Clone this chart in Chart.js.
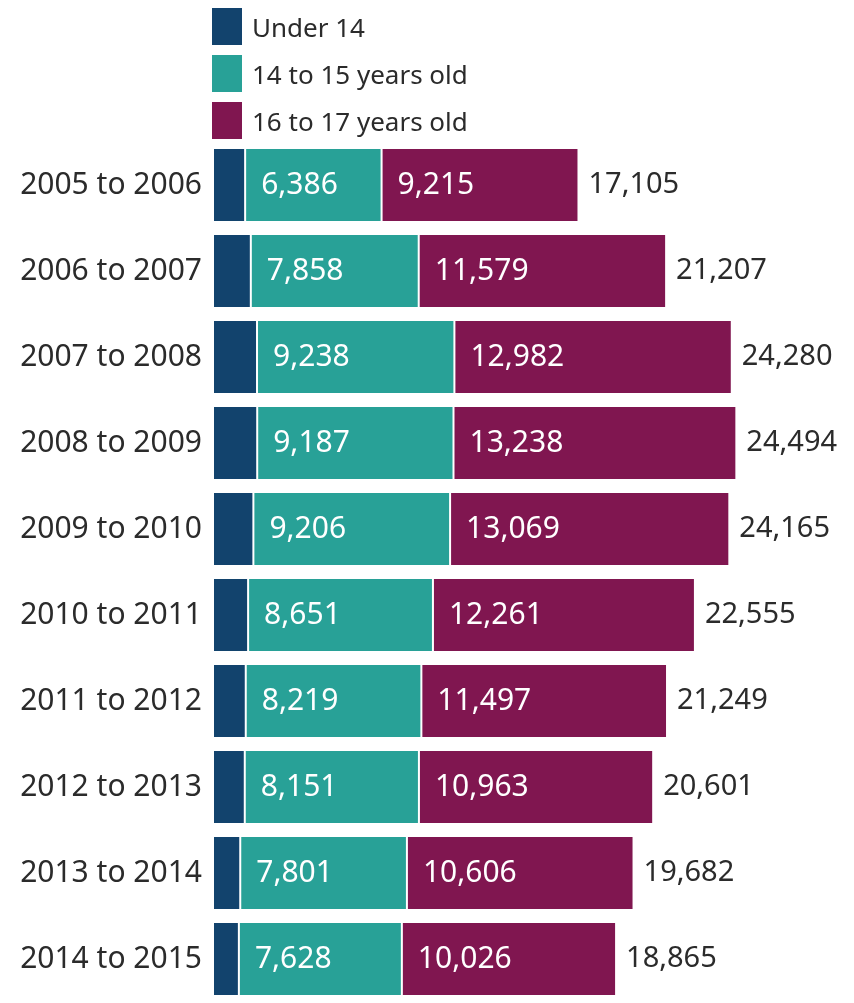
<!DOCTYPE html>
<html>
<head>
<meta charset="utf-8">
<script src="https://cdn.jsdelivr.net/npm/chart.js@4"></script>
<style>
  body { margin: 0; background: #fff; overflow: hidden; }
  #wrap { position: relative; width: 854px; height: 1003px; }
  #myChart { position: absolute; left: 0; top: 0; }
  #legend { position: absolute; left: 212px; top: 8px; font-family: 'Noto Sans', sans-serif; font-size: 26px; color: #2b2b2b; }
  #legend div { display: flex; align-items: center; height: 37px; margin-bottom: 10px; }
  #legend span.box { display: inline-block; width: 30px; height: 37px; margin-right: 10px; }
</style>
</head>
<body>
<div id="wrap">
  <canvas id="myChart" width="854" height="1003"></canvas>
  <div id="legend"></div>
</div>
<script>
const years = [
  '2005 to 2006',
  '2006 to 2007',
  '2007 to 2008',
  '2008 to 2009',
  '2009 to 2010',
  '2010 to 2011',
  '2011 to 2012',
  '2012 to 2013',
  '2013 to 2014',
  '2014 to 2015',
];
const under14 = [1504, 1770, 2060, 2069, 1890, 1643, 1533, 1487, 1275, 1211];
const age14to15 = [6386, 7858, 9238, 9187, 9206, 8651, 8219, 8151, 7801, 7628];
const age16to17 = [9215, 11579, 12982, 13238, 13069, 12261, 11497, 10963, 10606, 10026];
const totals = [17105, 21207, 24280, 24494, 24165, 22555, 21249, 20601, 19682, 18865];

const seriesNames = ['Under 14', '14 to 15 years old', '16 to 17 years old'];
const colours = ['#12436d', '#28a197', '#801650'];

const legend = document.getElementById('legend');
seriesNames.forEach((name, i) => {
  legend.innerHTML += `<div><span class="box" style="background:${colours[i]}"></span>${name}</div>`;
});

const fmt = (n) => n.toLocaleString('en-GB');

const valueLabels = {
  id: 'valueLabels',
  afterDatasetsDraw(chart) {
    const ctx = chart.ctx;
    ctx.save();
    ctx.font = '30px "Noto Sans", sans-serif';
    ctx.textBaseline = 'middle';
    ctx.textAlign = 'left';
    [1, 2].forEach((d) => {
      const meta = chart.getDatasetMeta(d);
      meta.data.forEach((bar, i) => {
        const left = bar.x - bar.width;
        ctx.fillStyle = '#ffffff';
        ctx.fillText(fmt(chart.data.datasets[d].data[i]), left + 16, bar.y);
      });
    });
    const last = chart.getDatasetMeta(2);
    ctx.font = '29px "Noto Sans", sans-serif';
    last.data.forEach((bar, i) => {
      ctx.fillStyle = '#2b2b2b';
      ctx.fillText(fmt(totals[i]), bar.x + 10, bar.y);
    });
    ctx.restore();
  },
};

const makeSet = (label, data, colour) => ({
  label,
  data,
  backgroundColor: colour,
  borderColor: '#ffffff',
  borderWidth: 1,
  borderSkipped: false,
  barPercentage: 0.86,
  categoryPercentage: 1,
});

new Chart(document.getElementById('myChart'), {
  type: 'bar',
  data: {
    labels: years,
    datasets: [
      makeSet(seriesNames[0], under14, colours[0]),
      makeSet(seriesNames[1], age14to15, colours[1]),
      makeSet(seriesNames[2], age16to17, colours[2]),
    ],
  },
  options: {
    indexAxis: 'y',
    responsive: false,
    animation: false,
    layout: { padding: { top: 142, bottom: 1, left: 0, right: 0 } },
    plugins: {
      legend: { display: false },
      tooltip: { enabled: false },
    },
    scales: {
      x: {
        stacked: true,
        display: false,
        min: 0,
        max: 30000,
      },
      y: {
        stacked: true,
        grid: { display: false, drawTicks: false },
        border: { display: false },
        ticks: {
          color: '#2b2b2b',
          padding: 11,
          font: { family: 'Noto Sans', size: 30 },
        },
        afterFit(scale) {
          scale.width = 213;
          scale.paddingTop = 0;
          scale.paddingBottom = 0;
        },
      },
    },
  },
  plugins: [valueLabels],
});
</script>
</body>
</html>
